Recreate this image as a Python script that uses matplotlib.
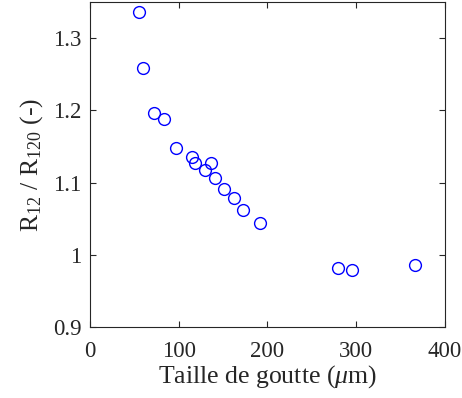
import matplotlib
matplotlib.use('Agg')
import matplotlib.pyplot as plt

# Donnees
taille = [55.4, 60.2, 71.8, 83.7, 96.4, 115.1, 118.1, 136.0, 129.0, 140.6,
          151.0, 162.2, 172.7, 191.7, 279.9, 295.6, 366.6]
ratio = [1.336, 1.258, 1.196, 1.1885, 1.1486, 1.135, 1.1265, 1.1265, 1.118, 1.106,
         1.0917, 1.079, 1.0625, 1.044, 0.9825, 0.979, 0.986]

xticks = [0, 100, 200, 300, 400]
yticks = [0.9, 1.0, 1.1, 1.2, 1.3]
yticklabels = ['0.9', '1', '1.1', '1.2', '1.3']

plt.rcParams['font.family'] = ['Liberation Serif', 'DejaVu Serif']
plt.rcParams['mathtext.fontset'] = 'custom'
plt.rcParams['mathtext.rm'] = 'Liberation Serif'
plt.rcParams['mathtext.it'] = 'Liberation Serif:italic'

gris = '#262626'

fig = plt.figure(figsize=(4.62, 3.98), dpi=100)
ax = fig.add_axes([0.195, 0.178, 0.768, 0.817])

ax.plot(taille, ratio, 'o', markerfacecolor='none', markeredgecolor='#0000ff',
        markersize=8.5, markeredgewidth=1.0)

ax.set_xlim(0, 400)
ax.set_ylim(0.9, 1.35)
ax.set_xticks(xticks)
ax.set_yticks(yticks)
ax.set_yticklabels(yticklabels)

ax.tick_params(direction='in', top=True, right=True, length=4, width=0.8,
               labelsize=16.5, colors=gris)
ax.tick_params(axis='x', pad=10)
ax.tick_params(axis='y', pad=6)
for s in ax.spines.values():
    s.set_color(gris)
    s.set_linewidth(0.8)

ax.set_xlabel(r'Taille de goutte ($\mu$m)', fontsize=18.5, color=gris, labelpad=1)
ax.set_ylabel(r'R$_{12}$ / R$_{120}$ (-)', fontsize=18.5, color=gris, labelpad=6)

plt.savefig('out.png', dpi=100)
plt.close()
